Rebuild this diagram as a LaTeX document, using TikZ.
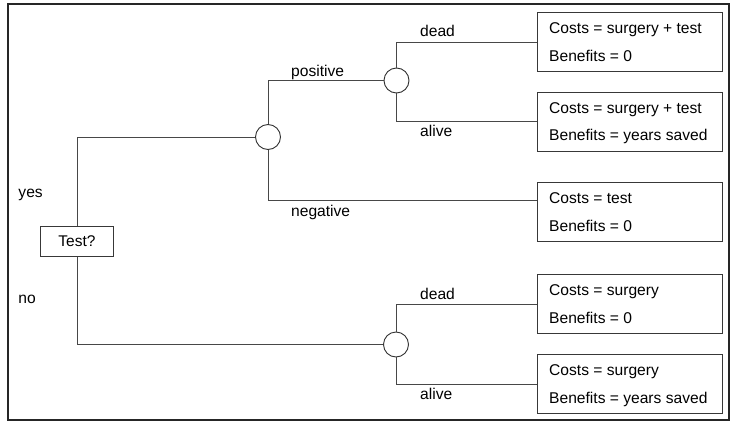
\documentclass[tikz,border=0pt]{standalone}
\usepackage{fontspec}
\setmainfont{Liberation Sans}
\begin{document}
\begin{tikzpicture}[x=1pt,y=-1pt,
  treeline/.style={draw=black!72, line width=1pt},
  outcome/.style={draw=black!78, line width=1pt, minimum width=185pt, minimum height=59pt, inner sep=0pt, anchor=north west},
  chance/.style={circle, draw=black!80, line width=0.9pt, minimum size=25pt, inner sep=0pt, fill=white},
  decision/.style={draw=black!78, line width=1pt, minimum width=72.6pt, minimum height=30pt, inner sep=0pt, font=\fontsize{15.5}{18}\selectfont},
  lbl/.style={anchor=base west, inner sep=0pt, font=\fontsize{15.6}{18}\selectfont}
]
\useasboundingbox (0,0) rectangle (732,423);
\fill[white] (0,0) rectangle (732,423);
\draw[line width=1.8pt, black!85] (7.8,4) rectangle (729.3,420);

% decision node
\node[decision] (test) at (77,241) {Test?};

% chance nodes
\node[chance] (c1) at (268,137) {};
\node[chance] (c2) at (396.5,80.5) {};
\node[chance] (c3) at (396,344.5) {};

% outcome boxes
\node[outcome] (b1) at (537,12) {};
\node[outcome] (b2) at (537,91.5) {};
\node[outcome] (b3) at (537,182) {};
\node[outcome] (b4) at (537,274) {};
\node[outcome] (b5) at (537,354) {};

% box texts
\node[lbl] (t1a) at (549,33.5) {Costs = surgery + test};
\node[lbl] (t1b) at (549,61) {Benefits = 0};
\node[lbl] (t2a) at (549,113) {Costs = surgery + test};
\node[lbl] (t2b) at (549,140.5) {Benefits = years saved};
\node[lbl] (t3a) at (549,203.5) {Costs = test};
\node[lbl] (t3b) at (549,231) {Benefits = 0};
\node[lbl] (t4a) at (549,295.5) {Costs = surgery};
\node[lbl] (t4b) at (549,323) {Benefits = 0};
\node[lbl] (t5a) at (549,375.5) {Costs = surgery};
\node[lbl] (t5b) at (549,403) {Benefits = years saved};

% connectors
\draw[treeline] (test.north) |- (c1.west);
\draw[treeline] (test.south) |- (c3.west);
\draw[treeline] (c1.north) |- (c2.west);
\draw[treeline] (c1.south) |- ([yshift=12pt]b3.west);
\draw[treeline] (c2.north) |- (b1.west);
\draw[treeline] (c2.south) |- (b2.west);
\draw[treeline] (c3.north) |- (b4.west);
\draw[treeline] (c3.south) |- (b5.west);

% branch labels
\node[lbl] (lyes) at (18.3,197) {yes};
\node[lbl] (lno) at (18.3,303) {no};
\node[lbl] (lpos) at (291,76) {positive};
\node[lbl] (lneg) at (291,216) {negative};
\node[lbl] (ld1) at (420,36.7) {dead};
\node[lbl] (la1) at (420,136.7) {alive};
\node[lbl] (ld2) at (420,299) {dead};
\node[lbl] (la2) at (420,399) {alive};
\end{tikzpicture}
\end{document}
